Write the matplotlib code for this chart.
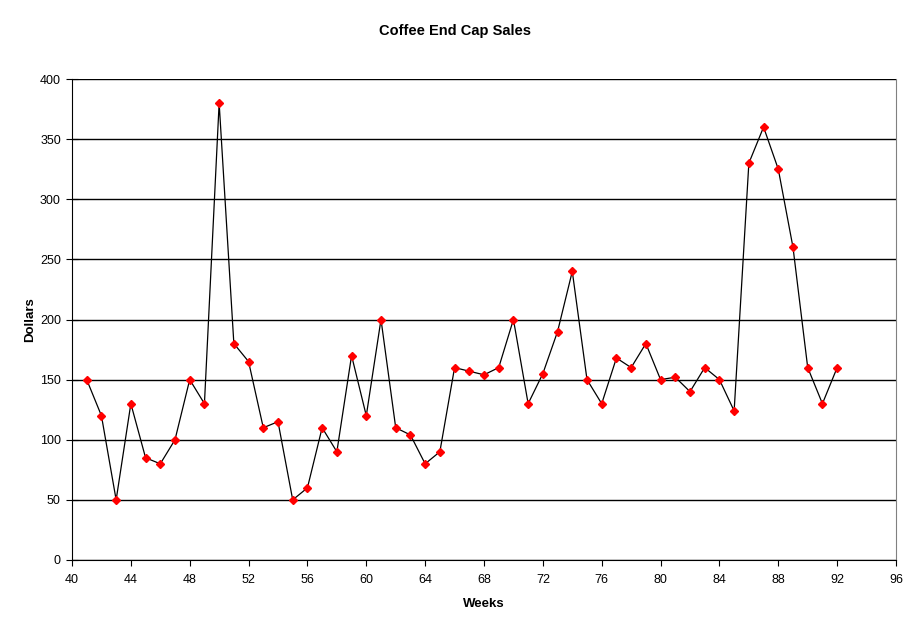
import matplotlib
matplotlib.use('Agg')
import matplotlib.pyplot as plt

plt.rcParams['font.family'] = ['Liberation Sans', 'DejaVu Sans']

weeks = list(range(41, 93))
dollars = [150, 120, 50, 130, 85, 80, 100, 150, 130, 380,
           180, 165, 110, 115, 50, 60, 110, 90, 170, 120,
           200, 110, 104, 80, 90, 160, 157, 154, 160, 200,
           130, 155, 190, 240, 150, 130, 168, 160, 180, 150,
           152, 140, 160, 150, 124, 330, 360, 325, 260, 160,
           130, 160]

fig = plt.figure(figsize=(9.11, 6.21), dpi=100)
ax = fig.add_axes([72 / 911, 1 - 560 / 621, 824 / 911, 481 / 621])

ax.plot(weeks, dollars, color='black', lw=0.9, marker='D', markersize=4,
        markerfacecolor='red', markeredgecolor='red', zorder=3)

ax.set_xlim(40, 96)
ax.set_ylim(0, 400)
ax.set_xticks(range(40, 97, 4))
ax.set_yticks(range(0, 401, 50))
ax.yaxis.grid(True, color='black', lw=1)
ax.set_axisbelow(True)

ax.spines['top'].set_visible(False)
ax.spines['right'].set_color('#808080')
ax.spines['left'].set_color('black')
ax.spines['bottom'].set_color('black')
ax.tick_params(axis='y', direction='inout', length=8, labelsize=9, color='black', pad=4)
ax.tick_params(axis='x', direction='out', length=4, labelsize=9, color='black', pad=6)

ax.set_xlabel('Weeks', fontsize=9.5, fontweight='bold', labelpad=9)
ax.set_ylabel('Dollars', fontsize=9.5, fontweight='bold', labelpad=3)
fig.text(455 / 911, 1 - 31 / 621, 'Coffee End Cap Sales', ha='center', va='center',
         fontsize=10.5, fontweight='bold')

fig.savefig('out.png', dpi=100)
